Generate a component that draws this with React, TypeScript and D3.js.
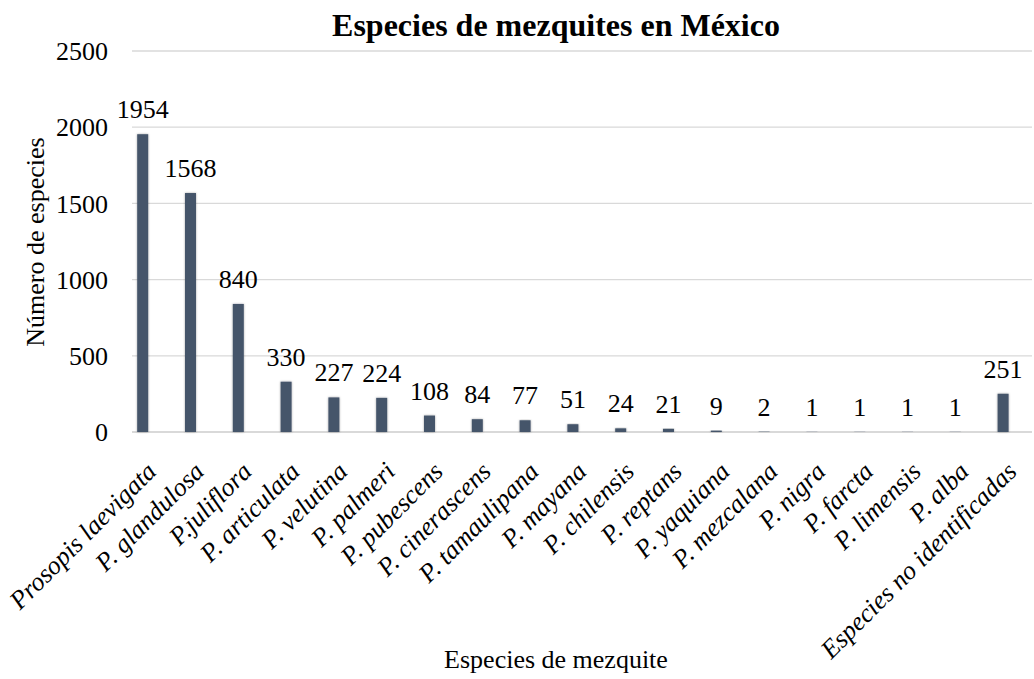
import React, { useEffect, useRef } from "react";
import * as d3 from "d3";

const species = [
  "Prosopis laevigata",
  "P. glandulosa",
  "P.juliflora",
  "P. articulata",
  "P. velutina",
  "P. palmeri",
  "P. pubescens",
  "P. cinerascens",
  "P. tamaulipana",
  "P. mayana",
  "P. chilensis",
  "P. reptans",
  "P. yaquiana",
  "P. mezcalana",
  "P. nigra",
  "P. farcta",
  "P. limensis",
  "P. alba",
  "Especies no identificadas",
];
const counts = [1954, 1568, 840, 330, 227, 224, 108, 84, 77, 51, 24, 21, 9, 2, 1, 1, 1, 1, 251];
const yTicks = [0, 500, 1000, 1500, 2000, 2500];

const W = 1034;
const H = 679;
const FONT = "Liberation Serif, DejaVu Serif, serif";

export default function App() {
  const svgRef = useRef<SVGSVGElement | null>(null);

  useEffect(() => {
    const svg = d3.select(svgRef.current);
    svg.selectAll("*").remove();

    const step = 47.8;
    const x = d3
      .scaleBand<string>()
      .domain(species)
      .range([142.7 - step / 2, 142.7 - step / 2 + step * species.length]);
    const y = d3.scaleLinear().domain([0, 2500]).range([432, 51]);
    const barW = 11;

    const defs = svg.append("defs");
    const f = defs.append("filter").attr("id", "shadow").attr("x", "-50%").attr("y", "-10%").attr("width", "200%").attr("height", "120%");
    f.append("feDropShadow").attr("dx", 0).attr("dy", 0).attr("stdDeviation", 1.3).attr("flood-color", "#000").attr("flood-opacity", 0.35);

    // gridlines
    svg
      .append("g")
      .selectAll("line")
      .data(yTicks)
      .join("line")
      .attr("x1", 132)
      .attr("x2", 1032)
      .attr("y1", (d) => y(d))
      .attr("y2", (d) => y(d))
      .attr("stroke", "#d9d9d9")
      .attr("stroke-width", (d) => (d === 0 ? 2 : 1.3));

    const txt = svg.append("g").style("font-family", FONT).attr("fill", "#000");

    // y tick labels
    txt
      .append("g")
      .selectAll("text")
      .data(yTicks)
      .join("text")
      .attr("x", 108)
      .attr("y", (d) => y(d))
      .attr("dy", "0.35em")
      .attr("text-anchor", "end")
      .attr("font-size", 26)
      .text((d) => d);

    // bars
    svg
      .append("g")
      .selectAll("rect")
      .data(counts)
      .join("rect")
      .attr("x", (d, i) => x(species[i])! + x.bandwidth() / 2 - barW / 2)
      .attr("width", barW)
      .attr("y", (d) => y(d))
      .attr("height", (d) => y(0) - y(d))
      .attr("fill", "#44546a")
      .attr("filter", "url(#shadow)");

    // value labels
    txt
      .append("g")
      .selectAll("text")
      .data(counts)
      .join("text")
      .attr("x", (d, i) => x(species[i])! + x.bandwidth() / 2)
      .attr("y", (d) => y(d) - 16)
      .attr("text-anchor", "middle")
      .attr("font-size", 26)
      .text((d) => d);

    // category labels
    txt
      .append("g")
      .selectAll("text")
      .data(species)
      .join("text")
      .attr("transform", (d) => `translate(${x(d)! + x.bandwidth() / 2 + 15},${473}) rotate(-45)`)
      .attr("text-anchor", "end")
      .attr("font-style", "italic")
      .attr("font-size", 26)
      .text((d) => d);

    // title
    txt
      .append("text")
      .attr("x", 556)
      .attr("y", 36)
      .attr("text-anchor", "middle")
      .attr("font-weight", "bold")
      .attr("font-size", 32)
      .text("Especies de mezquites en México");

    // axis titles
    txt
      .append("text")
      .attr("transform", `translate(44,242) rotate(-90)`)
      .attr("text-anchor", "middle")
      .attr("font-size", 26)
      .text("Número de especies");

    txt
      .append("text")
      .attr("x", 556)
      .attr("y", 668)
      .attr("text-anchor", "middle")
      .attr("font-size", 26)
      .text("Especies de mezquite");
  }, []);

  return (
    <svg
      ref={svgRef}
      width={W}
      height={H}
      style={{ position: "absolute", left: 0, top: 0, background: "#fff", display: "block" }}
    />
  );
}
